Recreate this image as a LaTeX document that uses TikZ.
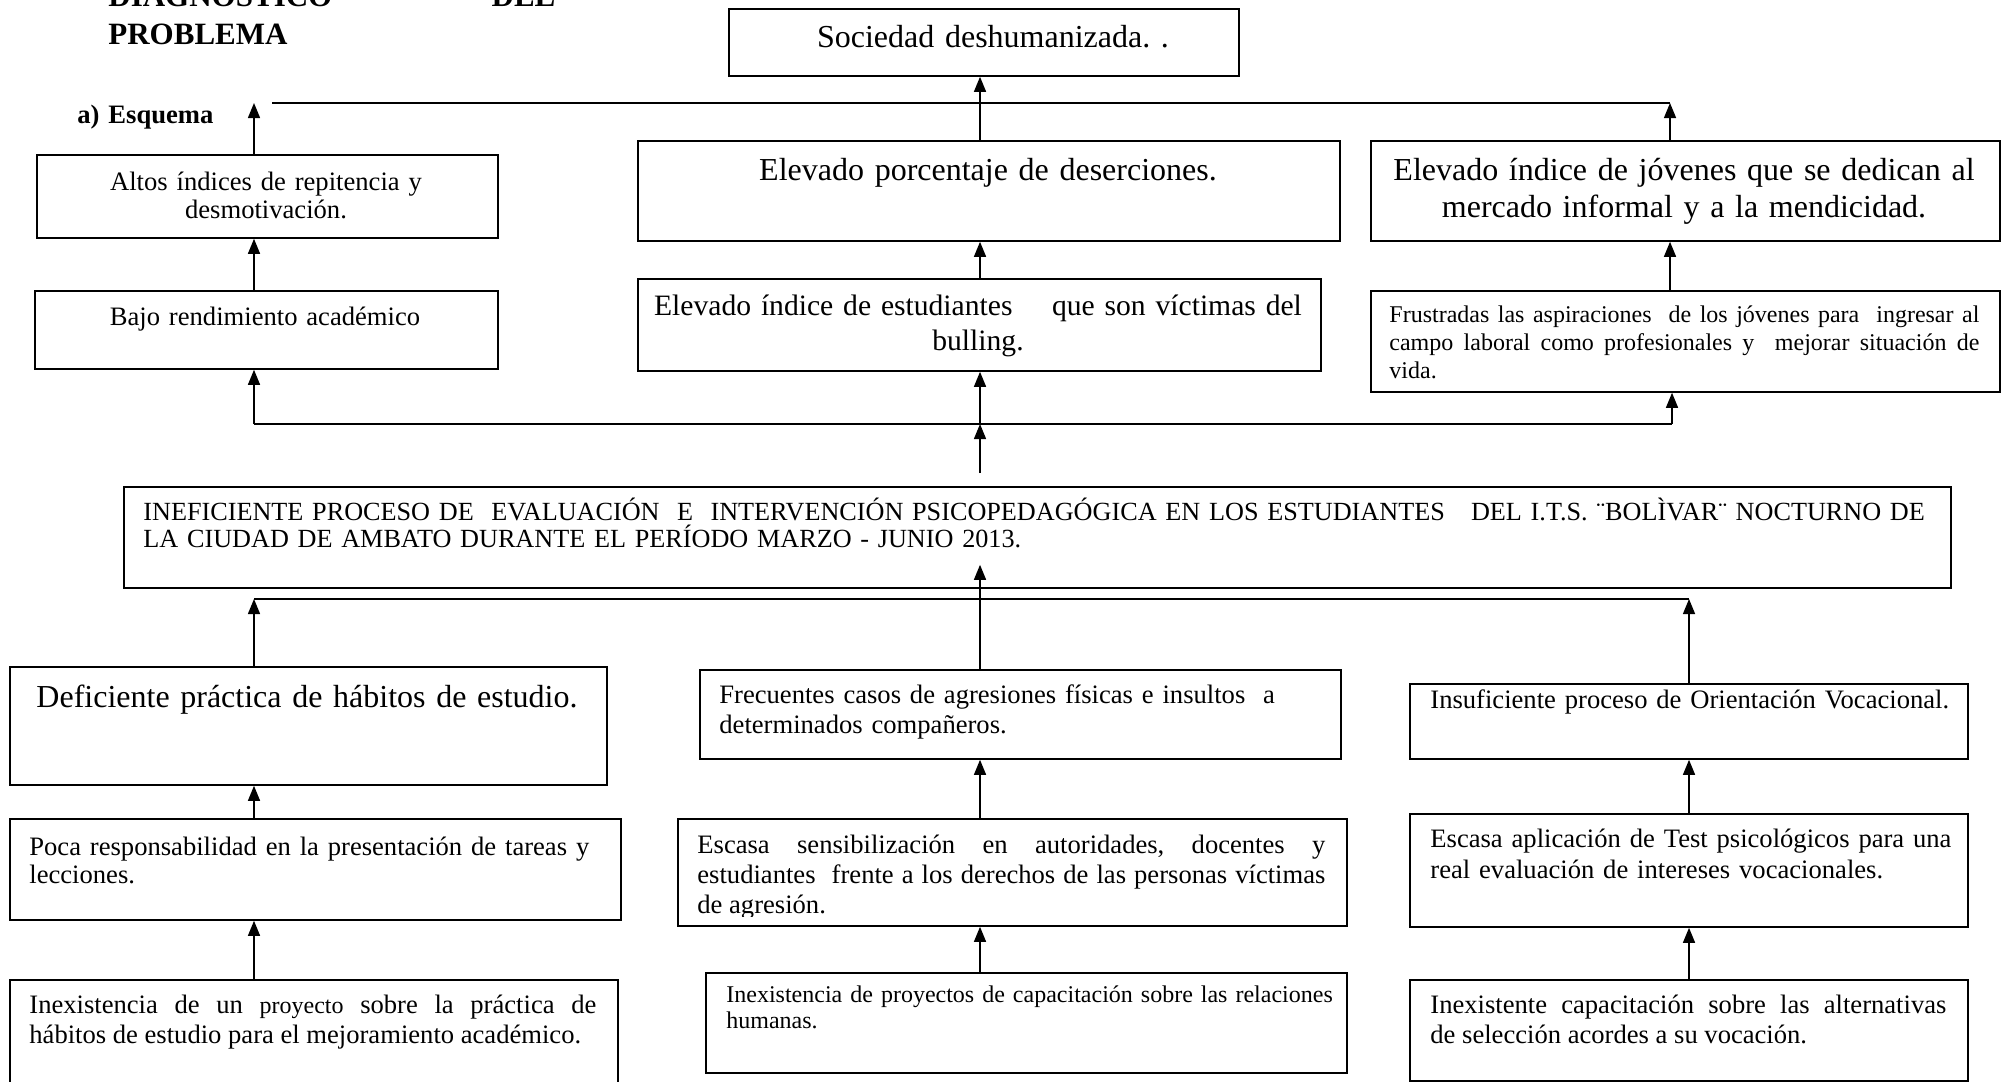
\documentclass[tikz,border=0pt]{standalone}
\usepackage{fontspec}
\setmainfont{Liberation Serif}
\usepackage{tikz}
\usetikzlibrary{calc,arrows.meta}
\frenchspacing
\hyphenpenalty=10000
\exhyphenpenalty=10000
\tolerance=10000
\hbadness=10000
\tikzstyle{box}=[rectangle, draw=black, line width=0.9pt, inner sep=0pt, anchor=north west]
\tikzstyle{txt}=[inner sep=0pt, anchor=base west, align=left, font=\fontsize{13.3}{15}\selectfont]
\tikzstyle{txtc}=[txt, anchor=base, align=center]
\tikzstyle{txtj}=[txt, align=justify]
\tikzstyle{linea}=[line width=0.9pt]
\tikzstyle{flecha}=[-{Triangle[length=7.5pt,width=6pt]}, line width=0.7pt]
\begin{document}
\begin{tikzpicture}[x=0.5pt, y=-0.5pt]
	\useasboundingbox (0,0) rectangle (2005,1081);

	\node[txtj, text width=223.5pt, font=\bfseries\fontsize{15.5}{19}\selectfont] (titulo) at (108,7) {DIAGNÓSTICO\hfill DEL\\PROBLEMA};
	\node[txt, text width=80pt, font=\bfseries\fontsize{13.3}{15}\selectfont] (esquema) at (77,124) {a) Esquema};

	% efectos
	\node[box, minimum width=255pt, minimum height=33.5pt] (sociedad) at (728,8) {};
	\node[txtc, text width=240pt, font=\fontsize{16}{18.5}\selectfont] (sociedad-t) at (993,48) {Sociedad deshumanizada. .};

	\node[box, minimum width=230.5pt, minimum height=41.5pt] (altos) at (36,154) {};
	\node[txtc, text width=220pt, font=\fontsize{13.3}{14}\selectfont] (altos-t) at (266,190) {Altos índices de repitencia y\\desmotivación.};
	\node[box, minimum width=351pt, minimum height=50pt] (desercion) at (637,140) {};
	\node[txtc, text width=340pt, font=\fontsize{16}{18.5}\selectfont] (desercion-t) at (988,180) {Elevado porcentaje de deserciones.};
	\node[box, minimum width=314.5pt, minimum height=50pt] (jovenes) at (1370,140) {};
	\node[txtc, text width=305pt, font=\fontsize{16}{18.5}\selectfont] (jovenes-t) at (1684,180) {Elevado índice de jóvenes que se dedican al\\mercado informal y a la mendicidad.};

	\node[box, minimum width=231.5pt, minimum height=39pt] (bajo) at (34,290) {};
	\node[txtc, text width=220pt] (bajo-t) at (265,325) {Bajo rendimiento académico};
	\node[box, minimum width=341.5pt, minimum height=46pt] (bulling) at (637,278) {};
	\node[txtc, text width=335pt, font=\fontsize{14.8}{17.5}\selectfont] (bulling-t) at (978,315) {Elevado índice de estudiantes\ \ \ \ que son víctimas del\\bulling.};
	\node[box, minimum width=314.5pt, minimum height=50.5pt] (frustradas) at (1370,290) {};
	\node[txtj, text width=295pt, font=\fontsize{12}{14}\selectfont] (frustradas-t) at (1389,322) {Frustradas las aspiraciones\ \ de los jóvenes para\ \ ingresar al\linebreak campo laboral como profesionales y\ \ mejorar situación de\linebreak vida.};

	% problema central
	\node[box, minimum width=913.5pt, minimum height=50.5pt] (problema) at (123,486) {};
	\node[txt, text width=905pt, font=\fontsize{13.1}{13.5}\selectfont] (problema-t) at (143,520) {INEFICIENTE PROCESO DE\ \ EVALUACIÓN\ \ E\ \ INTERVENCIÓN PSICOPEDAGÓGICA EN LOS ESTUDIANTES\ \ \ DEL I.T.S. ¨BOLÌVAR¨ NOCTURNO DE\\LA CIUDAD DE AMBATO DURANTE EL PERÍODO MARZO - JUNIO 2013.};

	% causas
	\node[box, minimum width=298.5pt, minimum height=59pt] (deficiente) at (9,666) {};
	\node[txtc, text width=290pt, font=\fontsize{16}{18.5}\selectfont] (deficiente-t) at (307,707) {Deficiente práctica de hábitos de estudio.};
	\node[box, minimum width=320.5pt, minimum height=44.5pt] (frecuentes) at (699,669) {};
	\node[txt, text width=305pt] (frecuentes-t) at (719,703) {Frecuentes casos de agresiones físicas e insultos\ \ a\\determinados compañeros.};
	\node[box, minimum width=279pt, minimum height=37.5pt] (insuficiente) at (1409,683) {};
	\node[txt, text width=263pt] (insuficiente-t) at (1430,708) {Insuficiente proceso de Orientación Vocacional.};

	\node[box, minimum width=305.5pt, minimum height=50.5pt] (poca) at (9,818) {};
	\node[txt, text width=290pt, font=\fontsize{13.3}{14}\selectfont] (poca-t) at (29,855) {Poca responsabilidad en la presentación de tareas y\\lecciones.};
	\node[box, minimum width=334.5pt, minimum height=53.5pt] (escasasens) at (677,818) {};
	\begin{scope}
		\clip (escasasens.north west) rectangle ([yshift=5pt]escasasens.south east);
		\node[txtj, text width=314pt, font=\fontsize{13.3}{15}\selectfont] (escasasens-t) at (697,853) {Escasa sensibilización en autoridades, docentes y\linebreak estudiantes\ \ frente a los derechos de las personas víctimas\linebreak de agresión.};
	\end{scope}
	\node[box, minimum width=279pt, minimum height=56.5pt] (escasatest) at (1409,813) {};
	\node[txt, text width=263pt, font=\fontsize{13.3}{15.5}\selectfont] (escasatest-t) at (1430,847) {Escasa aplicación de Test psicológicos para una\\real evaluación de intereses vocacionales.};

	\node[box, minimum width=304pt, minimum height=58pt] (inexproyecto) at (9,979) {};
	\node[txtj, text width=283.5pt] (inexproyecto-t) at (29,1013) {Inexistencia de un {\fontsize{12}{15}\selectfont proyecto} sobre la práctica de\linebreak hábitos de estudio para el mejoramiento académico.};
	\node[box, minimum width=320.5pt, minimum height=50pt] (inexcapac) at (705,972) {};
	\node[txt, text width=305pt, font=\fontsize{12}{13}\selectfont] (inexcapac-t) at (726,1002) {Inexistencia de proyectos de capacitación sobre las relaciones\\humanas.};
	\node[box, minimum width=279pt, minimum height=50.5pt] (inexcapvoc) at (1409,979) {};
	\node[txtj, text width=258pt] (inexcapvoc-t) at (1430,1013) {Inexistente capacitación sobre las alternativas\linebreak de selección acordes a su vocación.};

	% columnas de las flechas
	\coordinate (colA) at (254,0);
	\coordinate (colB) at (980,0);
	\coordinate (colC) at (1670,0);
	\coordinate (colD) at (1689,0);

	% conectores de efectos
	\coordinate (lineaE-izq) at (272,103);
	\coordinate (lineaE-der) at (1670,103);
	\draw[linea] (lineaE-izq) -- (lineaE-der);
	\draw[flecha] (altos.north -| colA) -- (colA |- lineaE-izq);
	\draw[flecha] (desercion.north -| colB) -- (sociedad.south -| colB);
	\draw[flecha] (jovenes.north -| colC) -- (lineaE-der);
	\draw[flecha] (bajo.north -| colA) -- (altos.south -| colA);
	\draw[flecha] (bulling.north -| colB) -- (desercion.south -| colB);
	\draw[flecha] (frustradas.north -| colC) -- (jovenes.south -| colC);

	\coordinate (lineaM-izq) at (254,424);
	\coordinate (lineaM-der) at (1672,424);
	\coordinate (tallo) at (980,473);
	\draw[linea] (lineaM-izq) -- (lineaM-der);
	\draw[flecha] (lineaM-izq) -- (bajo.south -| colA);
	\draw[flecha] (lineaM-izq -| colB) -- (bulling.south -| colB);
	\draw[flecha] (lineaM-der) -- (frustradas.south -| lineaM-der);
	\draw[flecha] (tallo) -- (tallo |- lineaM-izq);

	% conectores de causas
	\coordinate (lineaC-izq) at (254,599);
	\coordinate (lineaC-der) at (1689,599);
	\draw[linea] (lineaC-izq) -- (lineaC-der);
	\draw[flecha] (deficiente.north -| colA) -- (lineaC-izq);
	\draw[flecha] (insuficiente.north -| colD) -- (lineaC-der);
	\draw[flecha] (frecuentes.north -| colB) -- ($(problema.south -| colB)+(0,-24)$);
	\draw[flecha] (poca.north -| colA) -- (deficiente.south -| colA);
	\draw[flecha] (inexproyecto.north -| colA) -- (poca.south -| colA);
	\draw[flecha] (escasasens.north -| colB) -- (frecuentes.south -| colB);
	\draw[flecha] (inexcapac.north -| colB) -- (escasasens.south -| colB);
	\draw[flecha] (escasatest.north -| colD) -- (insuficiente.south -| colD);
	\draw[flecha] (inexcapvoc.north -| colD) -- (escasatest.south -| colD);

\end{tikzpicture}
\end{document}
